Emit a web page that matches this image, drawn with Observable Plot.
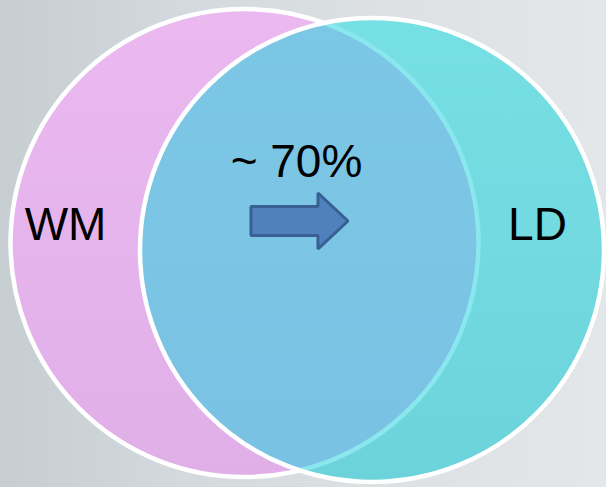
<!DOCTYPE html>
<html>
<head>
<meta charset="utf-8">
<script src="https://cdn.jsdelivr.net/npm/d3@7"></script>
<script src="https://cdn.jsdelivr.net/npm/@observablehq/plot@0.6"></script>
<style>
  html, body { margin: 0; padding: 0; }
  body { width: 606px; height: 487px; overflow: hidden; }
  #chart { width: 606px; height: 487px; background: linear-gradient(90deg, #c6ced2 0%, #d3d9dc 30%, #dde1e4 65%, #e4e7e9 100%); }
  #chart svg { display: block; }
</style>
</head>
<body>
<div id="chart"></div>
<script>
// ---- data ----
const setNames   = ["WM", "LD"];
const setCx      = [244, 371.5];
const setCy      = [242.5, 249.5];
const setR       = [234, 232];
const labelX     = [65, 537];
const labelY     = [225, 225];
const overlapLabel = "~ 70%";
const overlapX   = 296;
const overlapY   = 162;
// arrow (tail x, head-base x, tip x, center y, body half-height, head half-height)
const arrowTail = 251, arrowHeadBase = 318, arrowTip = 348, arrowMid = 221;
const arrowBodyHalf = 14.5, arrowHeadHalf = 28;

const W = 606, H = 487;
const sets = setNames.map((n, i) => ({name: n, cx: setCx[i], cy: setCy[i], r: setR[i], lx: labelX[i], ly: labelY[i]}));
const left = [sets[0]], right = [sets[1]];
const arrowPts = [
  {x: arrowTail, y1: arrowMid - arrowBodyHalf, y2: arrowMid + arrowBodyHalf},
  {x: arrowHeadBase, y1: arrowMid - arrowBodyHalf, y2: arrowMid + arrowBodyHalf},
  {x: arrowHeadBase, y1: arrowMid - arrowHeadHalf, y2: arrowMid + arrowHeadHalf},
  {x: arrowTip, y1: arrowMid, y2: arrowMid}
];

const font = "Liberation Sans, Arial, sans-serif";
const plot = Plot.plot({
  width: W, height: H,
  margin: 0,
  x: {domain: [0, W], range: [0, W], axis: null},
  y: {domain: [0, H], range: [0, H], axis: null},
  r: {type: "identity"},
  style: {background: "transparent", overflow: "visible"},
  marks: [
    Plot.dot(left, {x: "cx", y: "cy", r: "r", fill: "url(#gPink)", stroke: "white", strokeWidth: 4.5}),
    Plot.dot(right, {x: "cx", y: "cy", r: "r", fill: "url(#gCyan)", stroke: "none"}),
    Plot.dot(left, {x: "cx", y: "cy", r: "r", fill: "url(#gLens)", stroke: "#8ae7ed", strokeWidth: 4.5, ariaDescription: "lens"}),
    Plot.dot(right, {x: "cx", y: "cy", r: "r", fill: "none", stroke: "white", strokeWidth: 4.5}),
    Plot.text(sets, {x: "lx", y: "ly", text: "name", fontSize: 46, fontFamily: font, fill: "black", textAnchor: "middle"}),
    Plot.text([overlapLabel], {x: () => overlapX, y: () => overlapY, text: d => d, fontSize: 46, fontFamily: font, fill: "black", textAnchor: "middle"}),
    Plot.areaY(arrowPts, {x: "x", y1: "y1", y2: "y2", fill: "#4f81bd", stroke: "#3a5f92", strokeWidth: 3, strokeLinejoin: "miter"})
  ]
});

// gradients + clip for lens
const svg = d3.select(plot);
const defs = svg.insert("defs", ":first-child");
function vgrad(id, top, bottom) {
  const g = defs.append("linearGradient").attr("id", id).attr("x1", 0).attr("y1", 0).attr("x2", 0).attr("y2", 1);
  g.append("stop").attr("offset", "0%").attr("stop-color", top);
  g.append("stop").attr("offset", "100%").attr("stop-color", bottom);
}
vgrad("gPink", "#ebb9f0", "#e1afe8");
vgrad("gCyan", "#77e0e4", "#6cd3db");
vgrad("gLens", "#7dc7e6", "#79c2e3");
const sx = plot.scale("x"), sy = plot.scale("y");
defs.append("clipPath").attr("id", "clipRight")
  .append("circle").attr("cx", sx.apply(right[0].cx)).attr("cy", sy.apply(right[0].cy)).attr("r", right[0].r);
svg.select('g[aria-description="lens"]').attr("clip-path", "url(#clipRight)");

document.getElementById("chart").appendChild(plot);
</script>
</body>
</html>
